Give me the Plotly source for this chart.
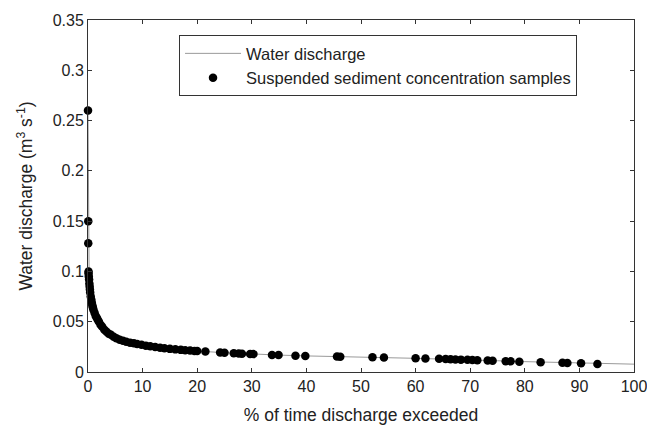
import plotly.graph_objects as go

# Water discharge flow-duration curve
curve_x = [0, 0.05, 0.1, 0.2, 0.3, 0.5, 0.7, 1, 1.5, 2, 3, 4, 5, 6, 8, 10, 12, 15, 18, 20,
           25, 30, 35, 40, 45, 50, 55, 60, 65, 70, 75, 80, 85, 90, 95, 100]
curve_y = [0.26, 0.15, 0.13, 0.1, 0.09, 0.08, 0.072, 0.064, 0.056, 0.05, 0.043, 0.038, 0.035,
           0.032, 0.029, 0.027, 0.025, 0.023, 0.0215, 0.0208, 0.0192, 0.0178, 0.0168, 0.0160,
           0.0152, 0.0147, 0.0142, 0.0136, 0.0130, 0.0121, 0.0112, 0.0103, 0.0095, 0.0088,
           0.0080, 0.0078]

# Suspended sediment concentration samples
sample_x = [0, 0.05, 0.05, 0.1, 0.1, 0.15, 0.2, 0.25, 0.3, 0.35, 0.4, 0.5, 0.6, 0.7, 0.8, 0.9,
            1.0, 1.2, 1.4, 1.6, 1.8, 2.0, 2.3, 2.6, 3.0, 3.4, 3.8, 4.2, 4.7, 5.2, 5.8, 6.4, 7.0,
            7.7, 8.4, 9.0, 9.8, 10.6, 11.4, 12.3, 13.2, 14.0, 15.0, 16.0, 17.0, 17.8, 18.7,
            19.5, 20.0,
            21.5, 24.2, 25.0, 26.7, 27.6, 28.2, 29.7, 30.3, 33.7, 34.9, 38.0, 39.8, 45.6, 46.2,
            52.1, 54.2, 60.0, 61.8, 64.3, 65.5, 66.4, 67.3, 68.3, 69.5, 70.4, 71.3, 73.2, 74.1,
            76.5, 77.4, 79.0, 82.9, 86.9, 87.8, 90.3, 93.3]
sample_y = [0.26, 0.15, 0.128, 0.1, 0.098, 0.095, 0.092, 0.088, 0.085, 0.082, 0.079, 0.075,
            0.072, 0.069, 0.066, 0.064, 0.062, 0.059, 0.056, 0.054, 0.052, 0.050, 0.047, 0.045,
            0.042, 0.040, 0.038, 0.037, 0.035, 0.0335, 0.032, 0.031, 0.0300, 0.0292, 0.0285,
            0.0278, 0.0270, 0.0262, 0.0255, 0.0248, 0.0242, 0.0236, 0.0230, 0.0225, 0.0220,
            0.0217, 0.0213, 0.0210, 0.0208,
            0.0204, 0.0195, 0.0192, 0.0187, 0.0184, 0.0182, 0.0180, 0.0178, 0.0170, 0.0168,
            0.0162, 0.0160, 0.0153, 0.0152, 0.0146, 0.0144, 0.0136, 0.0134, 0.0131, 0.0129,
            0.0127, 0.0125, 0.0123, 0.0121, 0.0119, 0.0117, 0.0114, 0.0112, 0.0108, 0.0106,
            0.0103, 0.0097, 0.0092, 0.0090, 0.0086, 0.0080]

x_ticks = [0, 10, 20, 30, 40, 50, 60, 70, 80, 90, 100]
y_ticks = [0, 0.05, 0.1, 0.15, 0.2, 0.25, 0.3, 0.35]
y_tick_labels = ["0", "0.05", "0.1", "0.15", "0.2", "0.25", "0.3", "0.35"]

FONT = "Liberation Sans, Arial, sans-serif"

fig = go.Figure()
fig.add_trace(go.Scatter(
    x=curve_x, y=curve_y, mode="lines", name="Water discharge",
    line=dict(color="#9a9a9a", width=1), legendgroup="a", cliponaxis=False))
fig.add_trace(go.Scatter(
    x=sample_x, y=sample_y, mode="markers", name="Suspended sediment concentration samples",
    marker=dict(color="black", size=8.5), legendgroup="b", cliponaxis=False))

axis_common = dict(showgrid=False, zeroline=False, showline=True, linecolor="#333333",
                   linewidth=1, mirror="ticks", ticks="inside", ticklen=4, tickcolor="#333333",
                   ticklabeloverflow="allow", automargin=False,
                   tickfont=dict(family=FONT, size=16, color="#222222"))

fig.update_layout(
    width=647, height=425,
    margin=dict(l=88, r=13, t=20, b=53),
    paper_bgcolor="white", plot_bgcolor="white",
    font=dict(family=FONT, color="#222222"),
    xaxis=dict(range=[0, 100], tickvals=x_ticks,
               title=dict(text="% of time discharge exceeded", font=dict(size=17.5)),
               **axis_common),
    yaxis=dict(range=[0, 0.35], tickvals=y_ticks, ticktext=y_tick_labels,
               title=dict(text="Water discharge (m<sup>3</sup> s<sup>-1</sup>)",
                          font=dict(size=17.5)),
               **axis_common),
    legend=dict(x=0.1667, y=0.957, xanchor="left", yanchor="top",
                bordercolor="#333333", borderwidth=1, bgcolor="white",
                font=dict(family=FONT, size=16.5, color="#222222"),
                itemwidth=56, tracegroupgap=0),
    showlegend=True,
)

fig.write_html("out.html")
